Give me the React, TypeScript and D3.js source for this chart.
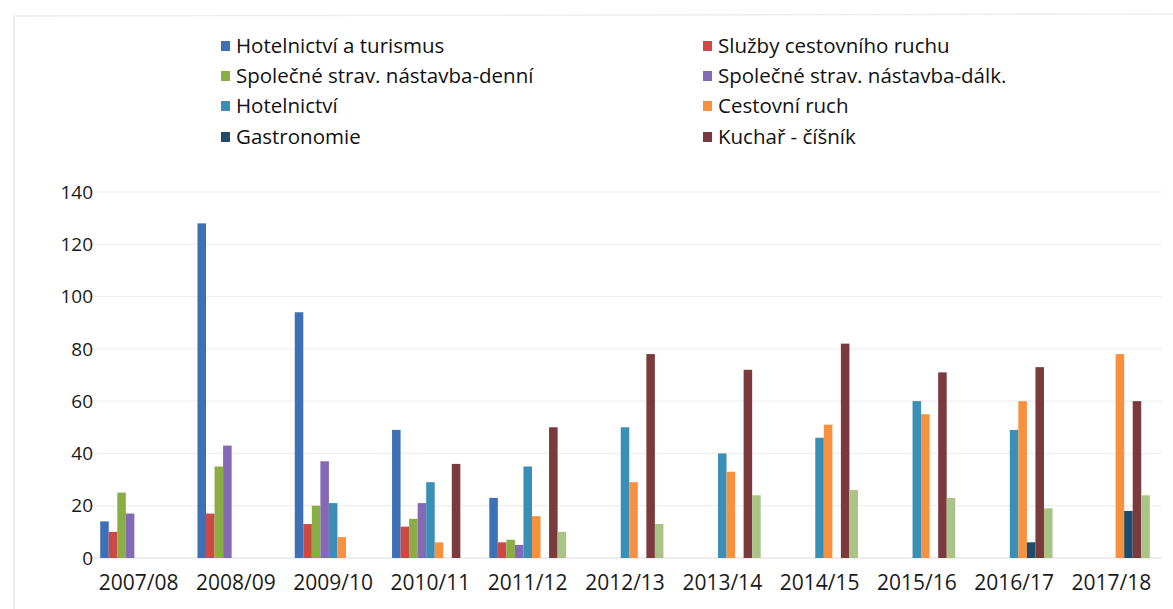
import React from "react";
import * as d3 from "d3";

// School years on the x axis
const years = [
  "2007/08", "2008/09", "2009/10", "2010/11", "2011/12", "2012/13",
  "2013/14", "2014/15", "2015/16", "2016/17", "2017/18",
];

// Student counts per study programme (null = programme not offered that year)
const hotelnictviTurismus = [14, 128, 94, 49, 23, null, null, null, null, null, null];
const sluzbyCestovnihoRuchu = [10, 17, 13, 12, 6, null, null, null, null, null, null];
const spolecneDenni = [25, 35, 20, 15, 7, null, null, null, null, null, null];
const spolecneDalk = [17, 43, 37, 21, 5, null, null, null, null, null, null];
const hotelnictvi = [null, null, 21, 29, 35, 50, 40, 46, 60, 49, null];
const cestovniRuch = [null, null, 8, 6, 16, 29, 33, 51, 55, 60, 78];
const gastronomie = [null, null, null, null, null, null, null, null, null, 6, 18];
const kucharCisnik = [null, null, null, 36, 50, 78, 72, 82, 71, 73, 60];
const kucharCisnikDalk = [null, null, null, null, 10, 13, 24, 26, 23, 19, 24];

const seriesNames = [
  "Hotelnictví a turismus",
  "Služby cestovního ruchu",
  "Společné strav. nástavba-denní",
  "Společné strav. nástavba-dálk.",
  "Hotelnictví",
  "Cestovní ruch",
  "Gastronomie",
  "Kuchař - číšník",
  "Kuchař - číšník (dálk.)",
];
const seriesValues = [
  hotelnictviTurismus,
  sluzbyCestovnihoRuchu,
  spolecneDenni,
  spolecneDalk,
  hotelnictvi,
  cestovniRuch,
  gastronomie,
  kucharCisnik,
  kucharCisnikDalk,
];
const seriesColors = [
  "#3E70B8", "#CC4A46", "#8AAE44", "#8469B4", "#3A8FB7",
  "#F8913F", "#1F4C6B", "#7A3A3E", "#A9C484",
];

// Legend shows the first eight programmes in two columns
const legendCount = 8;
const yTicks = [0, 20, 40, 60, 80, 100, 120, 140];

const W = 1173;
const H = 609;
const FONT = "'Open Sans', 'DejaVu Sans', sans-serif";

export default function App() {
  const x0 = d3
    .scaleBand<string>()
    .domain(years)
    .range([90, 1160])
    .paddingInner(0.21)
    .paddingOuter(0.105);
  const x1 = d3
    .scaleBand<number>()
    .domain(d3.range(seriesNames.length))
    .range([0, x0.bandwidth()]);
  const y = d3.scaleLinear().domain([0, 140]).range([558, 192]);

  const legendCols = [221, 703];
  const legendRows = [46, 76, 106, 137];

  return (
    <svg
      width={W}
      height={H}
      style={{ position: "absolute", left: 0, top: 0, background: "#fff" }}
    >
      <rect x={0} y={0} width={W} height={H} fill="#fff" />
      {/* faint frame */}
      <line x1={14} y1={16} x2={14} y2={H} stroke="#e6e6e6" strokeWidth={1.5} />
      <line x1={14} y1={16} x2={W} y2={14} stroke="#eeeeee" strokeWidth={1.5} />

      {/* gridlines */}
      {yTicks.map((t) => (
        <line
          key={t}
          x1={86}
          x2={1162}
          y1={y(t)}
          y2={y(t)}
          stroke={t === 0 ? "#dcdcdc" : "#efefef"}
          strokeWidth={1.2}
        />
      ))}

      {/* y tick labels */}
      {yTicks.map((t) => (
        <text
          key={t}
          x={93}
          y={y(t)}
          dy="0.35em"
          textAnchor="end"
          fontFamily={FONT}
          fontSize={19}
          fill="#1a1a1a"
        >
          {t}
        </text>
      ))}

      {/* bars */}
      {years.map((yr, i) => (
        <g key={yr} transform={`translate(${x0(yr)},0)`}>
          {seriesValues.map((vals, s) => {
            const v = vals[i];
            if (v == null) return null;
            return (
              <rect
                key={s}
                x={x1(s)}
                y={y(v)}
                width={x1.bandwidth()}
                height={y(0) - y(v)}
                fill={seriesColors[s]}
              />
            );
          })}
        </g>
      ))}

      {/* x tick labels */}
      {years.map((yr) => (
        <text
          key={yr}
          x={(x0(yr) as number) + x0.bandwidth() / 2}
          y={583}
          dy="0.35em"
          textAnchor="middle"
          fontFamily={FONT}
          fontSize={21}
          fill="#1a1a1a"
        >
          {yr}
        </text>
      ))}

      {/* legend */}
      {seriesNames.slice(0, legendCount).map((name, s) => {
        const col = s % 2;
        const row = Math.floor(s / 2);
        const lx = legendCols[col];
        const ly = legendRows[row];
        return (
          <g key={name}>
            <rect x={lx} y={ly - 5} width={9} height={10} fill={seriesColors[s]} />
            <text
              x={lx + 15}
              y={ly}
              dy="0.35em"
              fontFamily={FONT}
              fontSize={20.5}
              fill="#111"
            >
              {name}
            </text>
          </g>
        );
      })}
    </svg>
  );
}
